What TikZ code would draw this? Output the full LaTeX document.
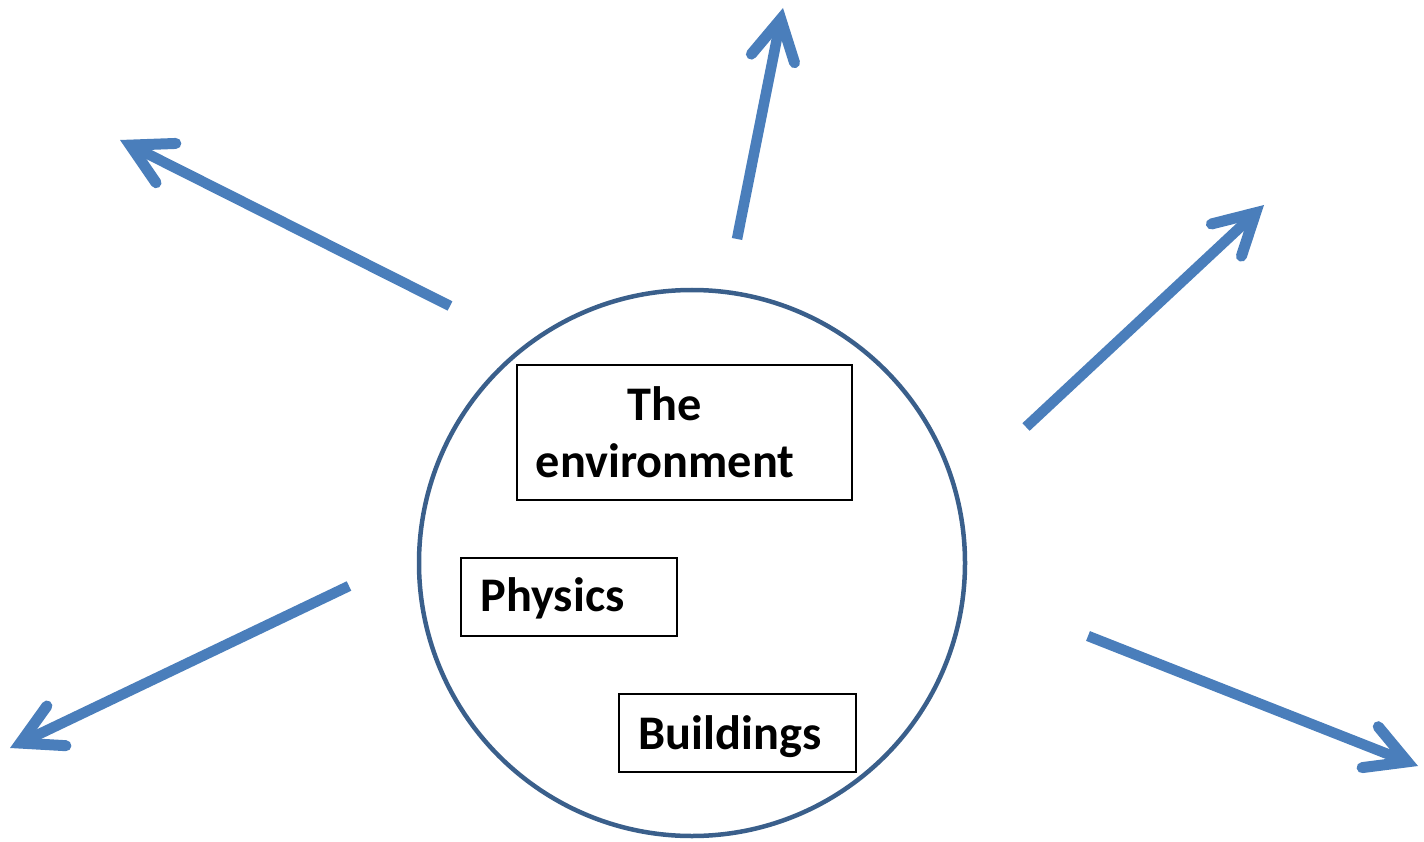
\documentclass[tikz,border=0pt]{standalone}
\usepackage{fontspec}
\setmainfont{Carlito}
\usetikzlibrary{arrows.meta}
\definecolor{arrowblue}{HTML}{4A7EBB}
\definecolor{ringblue}{HTML}{3A5F8B}
\tikzset{
  ray/.style={draw=arrowblue, line width=10.5pt, line cap=butt,
    -{Straight Barb[length=40pt, width=44pt, line width=11pt, line cap=round, line join=miter]}},
  ring/.style={draw=ringblue, line width=4.5pt, circle},
  box/.style={draw=black, line width=2pt, rectangle, inner sep=0pt},
  label/.style={font=\fontsize{48.3}{57}\selectfont\bfseries, inner sep=0pt, anchor=base}
}
\begin{document}
\begin{tikzpicture}[x=1pt,y=-1pt]
\useasboundingbox (0,0) rectangle (1424,842);
\node[ring, minimum size=546pt] (world) at (692,563) {};
\node[box, minimum width=335pt, minimum height=135pt] (envbox) at (684.5,432.5) {};
\node[box, minimum width=216pt, minimum height=78pt] (physbox) at (569,597) {};
\node[box, minimum width=237pt, minimum height=78pt] (buildbox) at (737.5,733) {};
\node[label, align=center] (envtxt) at (665,477) {The\\environment};
\node[label] (phystxt) at (552.5,611) {Physics};
\node[label] (buildtxt) at (730,749) {Buildings};
\coordinate (a1s) at (450,306); \coordinate (a1e) at (120,140);
\coordinate (a2s) at (737,239); \coordinate (a2e) at (783,8);
\coordinate (a3s) at (1026,427); \coordinate (a3e) at (1264,205);
\coordinate (a4s) at (349,586); \coordinate (a4e) at (10,748);
\coordinate (a5s) at (1088,636); \coordinate (a5e) at (1418,766);
\draw[ray] (a1s) -- (a1e);
\draw[ray] (a2s) -- (a2e);
\draw[ray] (a3s) -- (a3e);
\draw[ray] (a4s) -- (a4e);
\draw[ray] (a5s) -- (a5e);
\end{tikzpicture}
\end{document}
